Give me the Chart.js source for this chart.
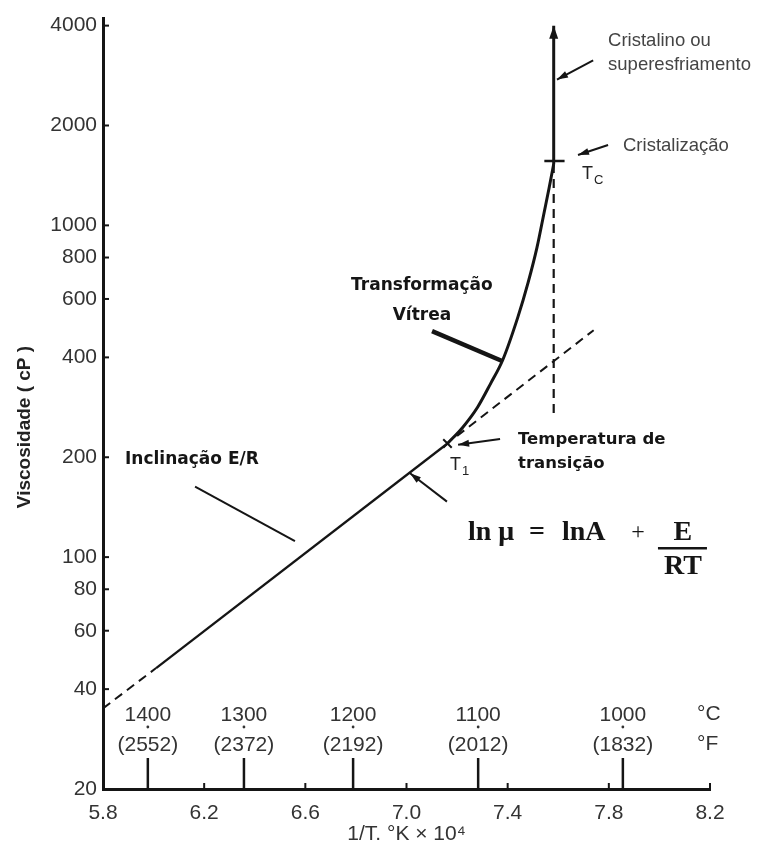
<!DOCTYPE html>
<html>
<head>
<meta charset="utf-8">
<title>Viscosidade x 1/T</title>
<script src="https://cdn.jsdelivr.net/npm/chart.js@4"></script>
<style>
  html, body { margin: 0; padding: 0; background: #fff; }
</style>
</head>
<body>
<canvas id="viscChart" width="760" height="847"></canvas>
<script>
// ---- eixos ----
const X_TICKS = [5.8, 6.2, 6.6, 7.0, 7.4, 7.8, 8.2];           // 1/T (K) x 10^4
const Y_TICKS = [20, 40, 60, 80, 100, 200, 400, 600, 800, 1000, 2000, 4000];
const TEMP_C = [1400, 1300, 1200, 1100, 1000];
const TEMP_F = ['(2552)', '(2372)', '(2192)', '(2012)', '(1832)'];

// ---- reta ln mu = lnA + E/RT ----
const EXTRAP_X = [5.8, 6.01];
const EXTRAP_Y = [35, 46.3];
const LINE_X = [6.01, 7.162];
const LINE_Y = [46.3, 220];
const LINE_EXT_X = [7.20, 7.74];
const LINE_EXT_Y = [232, 483];

// ---- transformacao vitrea (T1 -> Tc) ----
const GLASS_X = [7.162, 7.222, 7.281, 7.333, 7.380, 7.440, 7.481, 7.516, 7.544, 7.564, 7.582];
const GLASS_Y = [220, 246, 283, 334, 392, 528, 673, 858, 1092, 1298, 1530];

// ---- cristalizacao em Tc ----
const TC_X = [7.582, 7.582];
const CRYST_Y = [1530, 4000];
const TC_DROP_Y = [1530, 261];
const TC_BAR_X = [7.545, 7.625];
const TC_BAR_Y = [1564, 1564];
const T1_X = [7.162];
const T1_Y = [220];

const INK = '#151515';
const GRAY = '#333';
const SANS = '"Liberation Sans", Arial, sans-serif';
const BOLD = '"DejaVu Sans", Tahoma, sans-serif';
const SERIF = '"Liberation Serif", "Times New Roman", serif';

// textos e setas, ancorados em coordenadas dos dados
const NOTES = [
  { text: 'Cristalino ou', x: 7.797, y: 3608, font: `18.5px ${SANS}`, color: '#444', align: 'left' },
  { text: 'superesfriamento', x: 7.797, y: 3036, font: `18.5px ${SANS}`, color: '#444', align: 'left' },
  { text: 'Cristalização', x: 7.856, y: 1734, font: `18.5px ${SANS}`, color: '#444', align: 'left' },
  { text: 'Transformação', x: 7.061, y: 659, font: `bold 17px ${BOLD}`, color: INK, align: 'center' },
  { text: 'Vítrea', x: 7.061, y: 536, font: `bold 17px ${BOLD}`, color: INK, align: 'center' },
  { text: 'Temperatura de', x: 7.441, y: 226, font: `bold 16.5px ${BOLD}`, color: INK, align: 'left' },
  { text: 'transição', x: 7.441, y: 191, font: `bold 16.5px ${BOLD}`, color: INK, align: 'left' },
  { text: 'Inclinação E/R', x: 5.887, y: 196.6, font: `bold 17px ${BOLD}`, color: INK, align: 'left' }
];
const SUBS = [
  { main: 'T', sub: 'C', x: 7.694, y: 1430 },
  { main: 'T', sub: '1', x: 7.172, y: 190 }
];
const POINTERS = [
  { from: [7.738, 3141], to: [7.595, 2750], width: 2, head: true },
  { from: [7.797, 1746], to: [7.678, 1630], width: 2, head: true },
  { from: [7.101, 480], to: [7.378, 390], width: 4.5, head: false },
  { from: [7.370, 227], to: [7.204, 218], width: 2, head: true },
  { from: [7.160, 147], to: [7.014, 179], width: 2, head: true },
  { from: [6.164, 163], to: [6.559, 111.7], width: 2, head: false }
];
const EQ_ANCHOR = { x: 7.243, y: 106.4 };

const zip = (xs, ys) => xs.map((x, i) => ({ x, y: ys[i] }));

function seg(ctx, x1, y1, x2, y2) {
  ctx.beginPath();
  ctx.moveTo(x1, y1);
  ctx.lineTo(x2, y2);
  ctx.stroke();
}

function arrowHead(ctx, fx, fy, tx, ty, len, half) {
  const a = Math.atan2(ty - fy, tx - fx);
  ctx.beginPath();
  ctx.moveTo(tx, ty);
  ctx.lineTo(tx - len * Math.cos(a) + half * Math.sin(a), ty - len * Math.sin(a) - half * Math.cos(a));
  ctx.lineTo(tx - len * Math.cos(a) - half * Math.sin(a), ty - len * Math.sin(a) + half * Math.cos(a));
  ctx.closePath();
  ctx.fill();
}

const decorPlugin = {
  id: 'decor',
  afterDraw(chart) {
    const { ctx, chartArea: area, scales: { x, y } } = chart;
    const px = v => x.getPixelForValue(v);
    const py = v => y.getPixelForValue(v);
    ctx.save();
    ctx.strokeStyle = INK;
    ctx.fillStyle = INK;
    ctx.lineCap = 'butt';

    // marcas curtas para dentro
    ctx.lineWidth = 2;
    Y_TICKS.forEach(v => seg(ctx, area.left, py(v), area.left + 6, py(v)));
    X_TICKS.slice(1).forEach(v => seg(ctx, px(v), area.bottom, px(v), area.bottom - 6));

    // escala de temperatura (°C / °F)
    ctx.font = `21px ${SANS}`;
    ctx.textAlign = 'center';
    ctx.textBaseline = 'middle';
    TEMP_C.forEach((t, i) => {
      const tx = px(1e4 / (t + 273));
      ctx.lineWidth = 2.5;
      ctx.strokeStyle = INK;
      seg(ctx, tx, area.bottom, tx, area.bottom - 31);
      ctx.fillStyle = GRAY;
      ctx.fillText(String(t), tx, area.bottom - 74);
      ctx.fillText(TEMP_F[i], tx, area.bottom - 44);
      ctx.beginPath();
      ctx.arc(tx, area.bottom - 62, 1.4, 0, Math.PI * 2);
      ctx.fill();
    });
    ctx.textAlign = 'left';
    ctx.fillText('°C', area.right - 13, area.bottom - 75);
    ctx.fillText('°F', area.right - 13, area.bottom - 45);

    // titulo do eixo y
    ctx.save();
    ctx.translate(25, 427);
    ctx.rotate(-Math.PI / 2);
    ctx.font = `bold 19px ${SANS}`;
    ctx.fillStyle = '#222';
    ctx.textAlign = 'center';
    ctx.fillText('Viscosidade ( cP )', 0, 0);
    ctx.restore();

    // seta no topo da linha vertical
    ctx.fillStyle = INK;
    arrowHead(ctx, px(TC_X[1]), py(CRYST_Y[0]), px(TC_X[1]), py(CRYST_Y[1]), 13, 4.5);

    // ponteiros
    ctx.strokeStyle = INK;
    POINTERS.forEach(p => {
      const fx = px(p.from[0]), fy = py(p.from[1]);
      const tx = px(p.to[0]), ty = py(p.to[1]);
      ctx.lineWidth = p.width;
      seg(ctx, fx, fy, tx, ty);
      if (p.head) arrowHead(ctx, fx, fy, tx, ty, 11, 3.5);
    });

    // textos
    NOTES.forEach(n => {
      ctx.font = n.font;
      ctx.fillStyle = n.color;
      ctx.textAlign = n.align;
      ctx.fillText(n.text, px(n.x), py(n.y));
    });
    SUBS.forEach(s => {
      const sx = px(s.x), sy = py(s.y);
      ctx.fillStyle = '#222';
      ctx.textAlign = 'left';
      ctx.font = `18px ${SANS}`;
      ctx.fillText(s.main, sx, sy);
      ctx.font = `13px ${SANS}`;
      ctx.fillText(s.sub, sx + 12, sy + 7);
    });

    // ln mu = lnA + E/RT
    const ex = px(EQ_ANCHOR.x), ey = py(EQ_ANCHOR.y);
    ctx.fillStyle = INK;
    ctx.font = `bold 28px ${SERIF}`;
    ctx.textAlign = 'left';
    ctx.fillText('ln μ', ex, ey - 15);
    ctx.fillText('lnA', ex + 94, ey - 15);
    ctx.textAlign = 'center';
    ctx.fillText('=', ex + 69, ey - 15);
    ctx.font = `24px ${SERIF}`;
    ctx.fillText('+', ex + 170, ey - 15);
    ctx.font = `bold 28px ${SERIF}`;
    ctx.fillText('E', ex + 215, ey - 15);
    ctx.fillText('RT', ex + 215, ey + 19);
    ctx.lineWidth = 2.5;
    seg(ctx, ex + 190, ey, ex + 239, ey);

    ctx.restore();
  }
};

const solid = (data, width) => ({
  data, borderColor: INK, borderWidth: width, pointRadius: 0, fill: false
});
const dashed = (data, width) => ({
  data, borderColor: INK, borderWidth: width, borderDash: [9, 6], pointRadius: 0, fill: false
});

const glass = solid(zip(GLASS_X, GLASS_Y), 3);
glass.cubicInterpolationMode = 'monotone';

new Chart(document.getElementById('viscChart'), {
  type: 'line',
  data: {
    datasets: [
      dashed(zip(EXTRAP_X, EXTRAP_Y), 2),
      solid(zip(LINE_X, LINE_Y), 2.3),
      dashed(zip(LINE_EXT_X, LINE_EXT_Y), 2),
      glass,
      solid(zip(TC_X, CRYST_Y), 3),
      dashed(zip(TC_X, TC_DROP_Y), 2.2),
      solid(zip(TC_BAR_X, TC_BAR_Y), 2.5),
      {
        data: zip(T1_X, T1_Y), showLine: false, pointStyle: 'crossRot',
        pointRadius: 6, borderColor: INK, borderWidth: 2
      }
    ]
  },
  options: {
    responsive: false,
    animation: false,
    layout: { padding: { top: 15, right: 50, left: 0, bottom: 0 } },
    plugins: { legend: { display: false }, tooltip: { enabled: false } },
    scales: {
      x: {
        type: 'linear',
        min: 5.8,
        max: 8.2,
        afterBuildTicks: s => { s.ticks = X_TICKS.map(v => ({ value: v })); },
        grid: { display: false, drawTicks: false },
        border: { display: true, color: INK, width: 3 },
        ticks: {
          color: GRAY, padding: 12, maxRotation: 0, autoSkip: false,
          font: { family: SANS, size: 21 },
          callback: v => v.toFixed(1)
        },
        title: {
          display: true, text: '1/T. °K × 10⁴', color: GRAY,
          font: { family: SANS, size: 21 }, padding: { top: 0, bottom: 0 }
        },
        afterFit: s => { s.height = 58; }
      },
      y: {
        type: 'logarithmic',
        min: 20,
        max: 4200,
        afterBuildTicks: s => { s.ticks = Y_TICKS.map(v => ({ value: v })); },
        grid: { display: false, drawTicks: false },
        border: { display: true, color: INK, width: 3 },
        ticks: {
          color: GRAY, padding: 6, autoSkip: false,
          font: { family: SANS, size: 21 },
          callback: v => String(v)
        },
        afterFit: s => { s.width = 103; }
      }
    }
  },
  plugins: [decorPlugin]
});
</script>
</body>
</html>
